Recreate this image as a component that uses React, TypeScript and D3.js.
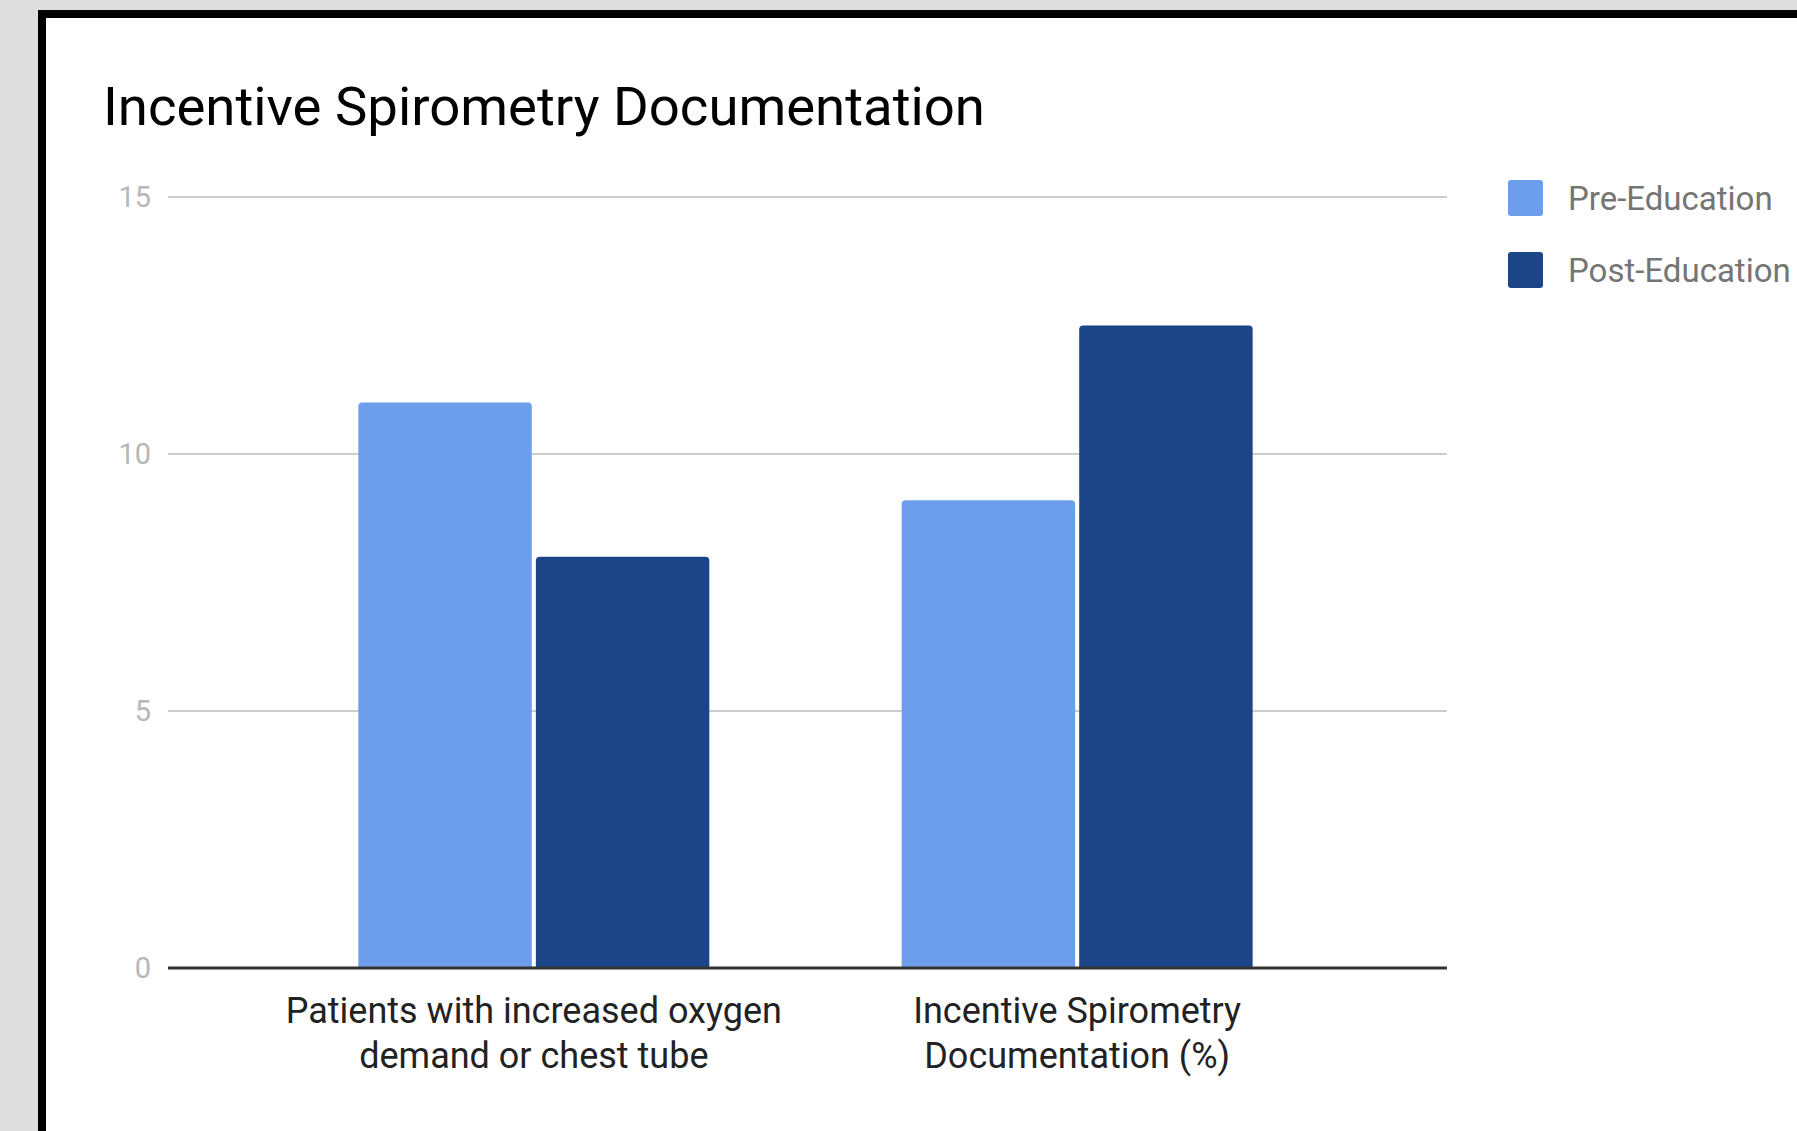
import React, { useEffect, useRef } from 'react';
import * as d3 from 'd3';

const categories = ['oxygen', 'spirometry'];
const categoryLabels = [
  ['Patients with increased oxygen', 'demand or chest tube'],
  ['Incentive Spirometry', 'Documentation (%)'],
];
const seriesNames = ['Pre-Education', 'Post-Education'];
const preEducation = [11, 9.1];
const postEducation = [8, 12.5];
const yTicks = [0, 5, 10, 15];
const colors = ['#6d9eeb', '#1c4587'];

export default function App() {
  const svgRef = useRef<SVGSVGElement>(null);

  useEffect(() => {
    if (!svgRef.current) return;
    const svg = d3.select(svgRef.current);
    svg.selectAll('*').remove();

    const W = 1797;
    const H = 1131;
    const font = 'Roboto, "Noto Sans", sans-serif';

    // page background + frame
    svg.append('rect').attr('width', W).attr('height', H).attr('fill', '#dedede');
    svg.append('rect').attr('x', 38).attr('y', 10).attr('width', W).attr('height', H).attr('fill', '#000');
    svg.append('rect').attr('x', 46).attr('y', 18).attr('width', W).attr('height', H).attr('fill', '#fff');

    const left = 168;
    const right = 1447;
    const top = 197;
    const bottom = 968;

    // bars sit a touch left of the gridline centre
    const x = d3.scaleBand().domain(categories).range([left - 2, right - 2]).padding(0.354);
    const xs = d3.scaleBand().domain(seriesNames).range([0, x.bandwidth()]).paddingInner(0.023);
    const y = d3.scaleLinear().domain([0, 15]).range([bottom, top]);

    // title
    svg.append('text')
      .attr('x', 103)
      .attr('y', 125)
      .style('font-family', font)
      .style('font-size', '54.5px')
      .style('fill', '#000')
      .text('Incentive Spirometry Documentation');

    // gridlines
    svg.append('g')
      .selectAll('line')
      .data(yTicks.filter((t) => t !== 0))
      .enter()
      .append('line')
      .attr('x1', left)
      .attr('x2', right)
      .attr('y1', (d) => y(d))
      .attr('y2', (d) => y(d))
      .attr('stroke', '#cccccc')
      .attr('stroke-width', 2);

    // y labels
    svg.append('g')
      .selectAll('text')
      .data(yTicks)
      .enter()
      .append('text')
      .attr('x', 151)
      .attr('y', (d) => y(d))
      .attr('dy', '0.36em')
      .attr('text-anchor', 'end')
      .style('font-family', font)
      .style('font-size', '29px')
      .style('fill', '#b7b7b7')
      .text((d) => d);

    // bars
    const series = [preEducation, postEducation];
    series.forEach((vals, si) => {
      svg.append('g')
        .selectAll('path')
        .data(vals)
        .enter()
        .append('path')
        .attr('d', (d, i) => {
          const bx = (x(categories[i]) || 0) + (xs(seriesNames[si]) || 0);
          const bw = xs.bandwidth();
          const by = y(d);
          const bh = bottom - by;
          const r = 4;
          return `M${bx},${by + bh}V${by + r}Q${bx},${by} ${bx + r},${by}H${bx + bw - r}Q${bx + bw},${by} ${bx + bw},${by + r}V${by + bh}Z`;
        })
        .attr('fill', colors[si]);
    });

    // baseline
    svg.append('line')
      .attr('x1', left)
      .attr('x2', right)
      .attr('y1', y(0))
      .attr('y2', y(0))
      .attr('stroke', '#333333')
      .attr('stroke-width', 3);

    // x labels
    categories.forEach((c, i) => {
      const cx = (x(c) || 0) + x.bandwidth() / 2;
      categoryLabels[i].forEach((line, li) => {
        svg.append('text')
          .attr('x', cx)
          .attr('y', 1023 + li * 45)
          .attr('text-anchor', 'middle')
          .style('font-family', font)
          .style('font-size', '36px')
          .style('fill', '#222')
          .text(line);
      });
    });

    // legend
    seriesNames.forEach((name, i) => {
      const ly = 180 + i * 72;
      svg.append('rect')
        .attr('x', 1508)
        .attr('y', ly)
        .attr('width', 35)
        .attr('height', 36)
        .attr('rx', 3)
        .attr('fill', colors[i]);
      svg.append('text')
        .attr('x', 1568)
        .attr('y', ly + 30)
        .style('font-family', font)
        .style('font-size', '33px')
        .style('fill', '#757575')
        .text(name);
    });
  }, []);

  return (
    <svg
      ref={svgRef}
      width={1797}
      height={1131}
      style={{ position: 'absolute', left: 0, top: 0, display: 'block' }}
    ></svg>
  );
}
